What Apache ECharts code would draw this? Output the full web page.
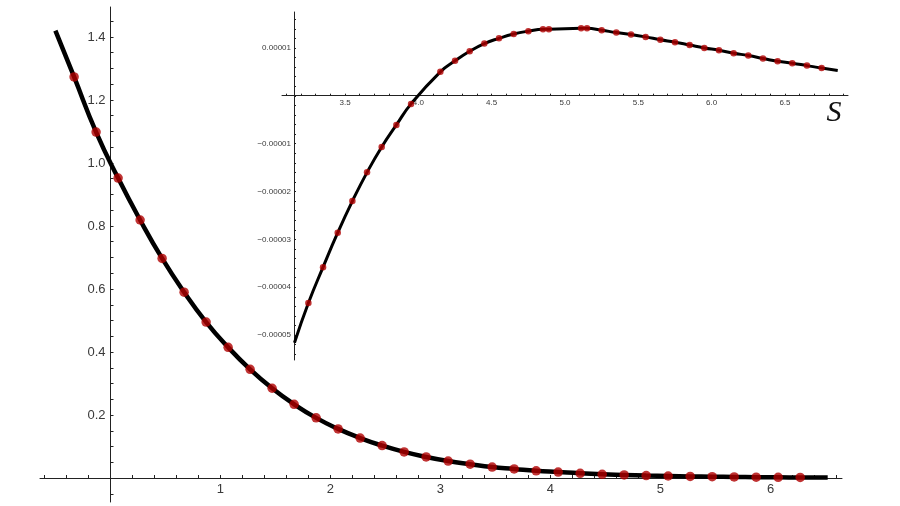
<!DOCTYPE html>
<html>
<head>
<meta charset="utf-8">
<script src="https://cdn.jsdelivr.net/npm/echarts@6/dist/echarts.min.js"></script>
<style>html,body{margin:0;padding:0;background:#fff}#c{width:900px;height:506px}</style>
</head>
<body>
<div id="c"></div>
<script>
// ---- main panel data ----
const mainDotX = [-0.33,-0.13,0.07,0.27,0.47,0.67,0.87,1.07,1.27,1.47,1.67,1.87,2.07,2.27,2.47,2.67,2.87,3.07,3.27,3.47,3.67,3.87,4.07,4.27,4.47,4.67,4.87,5.07,5.27,5.47,5.67,5.87,6.07,6.27];
const mainDotY = [1.273,1.098,0.952,0.819,0.697,0.590,0.495,0.415,0.345,0.285,0.234,0.191,0.156,0.127,0.103,0.083,0.067,0.054,0.044,0.035,0.029,0.023,0.019,0.015,0.012,0.010,0.008,0.0065,0.0053,0.0043,0.0035,0.0028,0.0023,0.0019];
const mainLineEndX = [-0.50, 6.52];
const mainLineEndY = [1.42, 0.0015];
const mainXTicks = [-0.6,-0.4,-0.2,0,0.2,0.4,0.6,0.8,1,1.2,1.4,1.6,1.8,2,2.2,2.4,2.6,2.8,3,3.2,3.4,3.6,3.8,4,4.2,4.4,4.6,4.8,5,5.2,5.4,5.6,5.8,6,6.2,6.4,6.6];
const mainXLabels = [1,2,3,4,5,6];
const mainYTicks = [-0.05,0,0.05,0.1,0.15,0.2,0.25,0.3,0.35,0.4,0.45,0.5,0.55,0.6,0.65,0.7,0.75,0.8,0.85,0.9,0.95,1,1.05,1.1,1.15,1.2,1.25,1.3,1.35,1.4,1.45];
const mainYLabels = [0.2,0.4,0.6,0.8,1.0,1.2,1.4];

// ---- inset data ----
const insetDotX = [3.25,3.35,3.45,3.55,3.65,3.75,3.85,3.95,4.15,4.25,4.35,4.45,4.55,4.65,4.75,4.85,4.89,5.11,5.15,5.25,5.35,5.45,5.55,5.65,5.75,5.85,5.95,6.05,6.15,6.25,6.35,6.45,6.55,6.65,6.75];
const insetDotY = [-4.33e-5,-3.58e-5,-2.86e-5,-2.20e-5,-1.60e-5,-1.07e-5,-0.61e-5,-0.17e-5,0.50e-5,0.73e-5,0.93e-5,1.09e-5,1.20e-5,1.29e-5,1.35e-5,1.39e-5,1.39e-5,1.41e-5,1.41e-5,1.37e-5,1.32e-5,1.28e-5,1.23e-5,1.17e-5,1.12e-5,1.06e-5,1.00e-5,0.95e-5,0.89e-5,0.84e-5,0.78e-5,0.72e-5,0.68e-5,0.63e-5,0.58e-5];
const insetLineEndX = [3.155, 6.86];
const insetLineEndY = [-5.16e-5, 0.53e-5];
const insetXTicks = [3.1,3.2,3.3,3.4,3.5,3.6,3.7,3.8,3.9,4.0,4.1,4.2,4.3,4.4,4.5,4.6,4.7,4.8,4.9,5.0,5.1,5.2,5.3,5.4,5.5,5.6,5.7,5.8,5.9,6.0,6.1,6.2,6.3,6.4,6.5,6.6,6.7,6.8,6.9];
const insetXLabels = [3.5,4.0,4.5,5.0,5.5,6.0,6.5];
const insetYTicks = [-5.4e-5,-5.2e-5,-5.0e-5,-4.8e-5,-4.6e-5,-4.4e-5,-4.2e-5,-4.0e-5,-3.8e-5,-3.6e-5,-3.4e-5,-3.2e-5,-3.0e-5,-2.8e-5,-2.6e-5,-2.4e-5,-2.2e-5,-2.0e-5,-1.8e-5,-1.6e-5,-1.4e-5,-1.2e-5,-1.0e-5,-0.8e-5,-0.6e-5,-0.4e-5,-0.2e-5,0,0.2e-5,0.4e-5,0.6e-5,0.8e-5,1.0e-5,1.2e-5,1.4e-5,1.6e-5];
const insetYLabels = [-5e-5,-4e-5,-3e-5,-2e-5,-1e-5,1e-5];
const insetAxisName = 'S';

const pair = (xs, ys) => xs.map((x, i) => [x, ys[i]]);
const mainLine = [[mainLineEndX[0], mainLineEndY[0]]].concat(pair(mainDotX, mainDotY), [[mainLineEndX[1], mainLineEndY[1]]]);
const insetLine = [[insetLineEndX[0], insetLineEndY[0]]].concat(pair(insetDotX, insetDotY), [[insetLineEndX[1], insetLineEndY[1]]]);

const FONT = 'Liberation Sans';
const LBL = '#3a3a3a';
const axisLineStyle = { color: '#222', width: 1 };

function insetYFmt(v) {
  const k = Math.round(v * 1e5);
  return (k < 0 ? '\u2212' : '') + '0.0000' + Math.abs(k);
}

const chart = echarts.init(document.getElementById('c'), null, { renderer: 'canvas' });
chart.setOption({
  animation: false,
  backgroundColor: '#fff',
  grid: [
    { left: 40, right: 58, top: 7, bottom: 4, containLabel: false, outerBoundsMode: 'none' },
    { left: 282, right: 52, top: 12, bottom: 146, containLabel: false, outerBoundsMode: 'none' }
  ],
  xAxis: [
    {
      type: 'value', gridIndex: 0, min: -0.64, max: 6.65, position: 'bottom', offset: -24,
      axisLine: { show: true, onZero: false, lineStyle: axisLineStyle },
      axisTick: { show: true, inside: true, length: 3, lineStyle: axisLineStyle, customValues: mainXTicks },
      axisLabel: { show: true, margin: 5, color: LBL, fontFamily: FONT, fontSize: 13, customValues: mainXLabels, formatter: v => String(Math.round(v)) },
      splitLine: { show: false }
    },
    {
      type: 'value', gridIndex: 1, min: 3.07, max: 6.93, position: 'bottom', offset: -264.3,
      name: insetAxisName, nameLocation: 'end', nameGap: -14,
      nameTextStyle: { fontFamily: 'Liberation Serif', fontStyle: 'italic', fontSize: 30, color: '#111', align: 'center', verticalAlign: 'top', padding: [2, 0, 0, 0] },
      axisLine: { show: true, onZero: false, lineStyle: axisLineStyle },
      axisTick: { show: true, inside: true, length: 2, lineStyle: axisLineStyle, customValues: insetXTicks },
      axisLabel: { show: true, margin: 3, color: LBL, fontFamily: FONT, fontSize: 8, customValues: insetXLabels, formatter: v => v.toFixed(1) },
      splitLine: { show: false }
    }
  ],
  yAxis: [
    {
      type: 'value', gridIndex: 0, min: -0.076, max: 1.495, position: 'left', offset: -70.5,
      axisLine: { show: true, onZero: false, lineStyle: axisLineStyle },
      axisTick: { show: true, inside: true, length: 3, lineStyle: axisLineStyle, customValues: mainYTicks },
      axisLabel: { show: true, margin: 5, color: LBL, fontFamily: FONT, fontSize: 13, customValues: mainYLabels, formatter: v => v.toFixed(1) },
      splitLine: { show: false }
    },
    {
      type: 'value', gridIndex: 1, min: -5.52e-5, max: 1.75e-5, position: 'left', offset: -12,
      axisLine: { show: true, onZero: false, lineStyle: axisLineStyle },
      axisTick: { show: true, inside: true, length: 2, lineStyle: axisLineStyle, customValues: insetYTicks },
      axisLabel: { show: true, margin: 3, color: LBL, fontFamily: FONT, fontSize: 8, customValues: insetYLabels, formatter: insetYFmt },
      splitLine: { show: false }
    }
  ],
  series: [
    {
      type: 'line', xAxisIndex: 0, yAxisIndex: 0, data: mainLine, smooth: true,
      showSymbol: false, lineStyle: { color: '#000', width: 4.5 }, z: 2
    },
    {
      type: 'scatter', xAxisIndex: 0, yAxisIndex: 0, data: pair(mainDotX, mainDotY),
      symbolSize: 9.5, itemStyle: { color: '#b00000' }, z: 3
    },
    {
      type: 'line', xAxisIndex: 1, yAxisIndex: 1, data: insetLine, smooth: true,
      showSymbol: false, lineStyle: { color: '#000', width: 3 }, z: 2
    },
    {
      type: 'scatter', xAxisIndex: 1, yAxisIndex: 1, data: pair(insetDotX, insetDotY),
      symbolSize: 6.5, itemStyle: { color: '#b00000' }, z: 3
    }
  ]
});
</script>
</body>
</html>
